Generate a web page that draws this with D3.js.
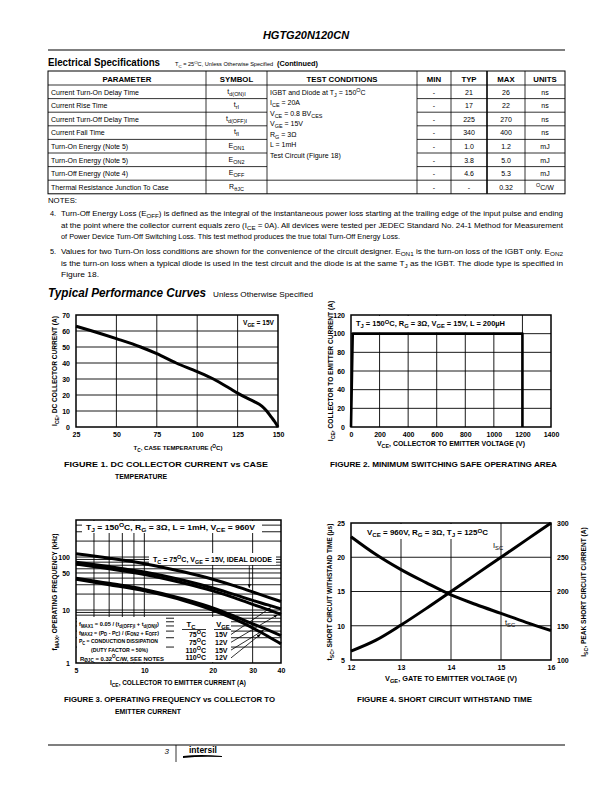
<!DOCTYPE html>
<html><head><meta charset="utf-8">
<script src="https://cdn.jsdelivr.net/npm/d3@7"></script>
<style>body{margin:0;background:#fff}svg{display:block}</style>
</head><body><svg id="page" width="612" height="792"></svg>
<script>
// ================= DATA =================
const tableHeaders = ["PARAMETER", "SYMBOL", "TEST CONDITIONS", "MIN", "TYP", "MAX", "UNITS"];
const tableParams = ["Current Turn-On Delay Time", "Current Rise Time", "Current Turn-Off Delay Time", "Current Fall Time",
  "Turn-On Energy (Note 5)", "Turn-On Energy (Note 5)", "Turn-Off Energy (Note 4)", "Thermal Resistance Junction To Case"];
const tableSymbols = ["t_{d(ON)I}", "t_{rI}", "t_{d(OFF)I}", "t_{fI}", "E_{ON1}", "E_{ON2}", "E_{OFF}", "R_{θJC}"];
const tableMin = ["-", "-", "-", "-", "-", "-", "-", "-"];
const tableTyp = ["21", "17", "225", "340", "1.0", "3.8", "4.6", "-"];
const tableMax = ["26", "22", "270", "400", "1.2", "5.0", "5.3", "0.32"];
const tableUnits = ["ns", "ns", "ns", "ns", "mJ", "mJ", "mJ", "^{O}C/W"];
const testConditions = ["IGBT and Diode at T_{J} = 150^{O}C", "I_{CE} = 20A", "V_{CE} = 0.8 BV_{CES}", "V_{GE} = 15V",
  "R_{G} = 3Ω", "L = 1mH", "Test Circuit (Figure 18)"];
const note4 = ["Turn-Off Energy Loss (E_{OFF}) is defined as the integral of the instantaneous power loss starting at the trailing edge of the input pulse and ending",
  "at the point where the collector current equals zero (I_{CE} = 0A). All devices were tested per JEDEC Standard No. 24-1 Method for Measurement",
  "of Power Device Turn-Off Switching Loss. This test method produces the true total Turn-Off Energy Loss."];
const note5 = ["Values for two Turn-On loss conditions are shown for the convenience of the circuit designer. E_{ON1} is the turn-on loss of the IGBT only. E_{ON2}",
  "is the turn-on loss when a typical diode is used in the test circuit and the diode is at the same T_{J} as the IGBT. The diode type is specified in",
  "Figure 18."];

// Figure 1: DC collector current vs case temperature
const fig1Temp =    [25, 35, 50,   65, 75,   87, 100,  110, 120, 125,  130,  135, 140, 143, 146, 148, 150];
const fig1Current = [63, 60, 55.2, 50, 45.8, 40, 34.6, 30,  24.2, 21.2, 18.5, 16, 13,  10,  6,   3.3, 0];
const fig1XTicks = [25, 50, 75, 100, 125, 150];
const fig1YTicks = [0, 10, 20, 30, 40, 50, 60, 70];

// Figure 2: switching SOA
const fig2Vce = [0, 12, 1200, 1200];
const fig2Ice = [0, 100, 100, 0];
const fig2XTicks = [0, 200, 400, 600, 800, 1000, 1200, 1400];
const fig2YTicks = [0, 20, 40, 60, 80, 100, 120];

// Figure 3: operating frequency vs collector current (log-log)
const fig3Ice = [5, 7, 10, 15, 20, 25, 30, 35, 40];
const fig3Ideal  = [115, 95, 75, 52, 38, 28.5, 22, 17.5, 14.5];
const fig3T75V15 = [80, 66, 52, 36, 26, 19.5, 15.2, 12.5, 10.5];
const fig3T75V12 = [74, 60, 47, 32, 23, 17, 12.8, 10.2, 8.3];
const fig3T110V15 = [40, 32, 24.5, 16, 11, 7.6, 5.5, 4.2, 3.3];
const fig3T110V12 = [38, 30, 23, 15, 10, 6.7, 4.6, 3.2, 2.3];
const fig3XTickVals = [5, 10, 20, 30, 40];
const fig3YTickVals = [1, 10, 50, 100];
const fig3XGrid = [6, 7, 8, 9, 10, 20, 30];
const fig3YGrid = [2, 3, 4, 5, 6, 7, 8, 9, 10, 20, 30, 40, 50, 60, 70, 80, 90, 100, 200, 300, 400];
const fig3LegendTc = ["75^{O}C", "75^{O}C", "110^{O}C", "110^{O}C"];
const fig3LegendVge = ["15V", "12V", "15V", "12V"];
const fig3ArrowX = [36, 38.5, 33.5, 32.5];   // point on the curve each label arrow points to (A)

// Figure 4: short circuit withstand time
const fig4Vge = [12, 12.5, 13, 13.5, 14, 14.5, 15, 15.5, 16];
const fig4Tsc = [23, 20.4, 18.2, 16.3, 14.5, 13.1, 11.8, 10.5, 9.3];
const fig4Isc = [113, 129, 151, 175, 200, 225, 250, 275, 300];
const fig4XTicks = [12, 13, 14, 15, 16];
const fig4YTicks = [5, 10, 15, 20, 25];
const fig4Y2Ticks = [100, 150, 200, 250, 300];

// ================= DRAWING =================
const SANS = "'Liberation Sans', Arial, Helvetica, sans-serif";
const NARROW = "'Liberation Sans Narrow', 'Arial Narrow', 'Liberation Sans', Arial, sans-serif";
const svg = d3.select('#page');
svg.append('rect').attr('width', 612).attr('height', 792).attr('fill', '#fff');

function rich(t, str, fs) {
  const re = /([_^])\{([^}]*)\}/g;
  let last = 0, m; const parts = [];
  while ((m = re.exec(str))) {
    if (m.index > last) parts.push({ t: str.slice(last, m.index), k: 'n' });
    parts.push({ t: m[2], k: m[1] === '_' ? 'sub' : 'sup' });
    last = re.lastIndex;
  }
  if (last < str.length) parts.push({ t: str.slice(last), k: 'n' });
  let cur = 0;
  parts.forEach(p => {
    const target = p.k === 'sub' ? fs * 0.3 : p.k === 'sup' ? -fs * 0.38 : 0;
    const ts = t.append('tspan').text(p.t);
    if (target - cur !== 0) ts.attr('dy', target - cur);
    if (p.k !== 'n') ts.attr('font-size', fs * 0.78);
    cur = target;
  });
}
function txt(parent, x, y, str, o = {}) {
  const fs = o.size || 7;
  const t = parent.append('text').attr('x', x).attr('y', y)
    .attr('font-family', o.family || SANS).attr('font-size', fs)
    .attr('font-weight', o.weight || 'normal').attr('font-style', o.style || 'normal')
    .attr('text-anchor', o.anchor || 'start').attr('fill', '#000');
  if (o.len) t.attr('textLength', o.len).attr('lengthAdjust', 'spacingAndGlyphs');
  if (o.rotate) t.attr('transform', `rotate(${o.rotate},${x},${y})`);
  rich(t, str, fs);
  return t;
}
function hline(p, x1, x2, y, w = 1) { p.append('line').attr('x1', x1).attr('x2', x2).attr('y1', y).attr('y2', y).attr('stroke', '#000').attr('stroke-width', w); }
function vline(p, x, y1, y2, w = 1) { p.append('line').attr('x1', x).attr('x2', x).attr('y1', y1).attr('y2', y2).attr('stroke', '#000').attr('stroke-width', w); }

// ---- page header ----
txt(svg, 306, 39, "HGTG20N120CN", { size: 11, weight: 'bold', style: 'italic', anchor: 'middle' });
hline(svg, 48, 565, 50, 1.2);
txt(svg, 48, 66, "Electrical Specifications", { size: 10, weight: 'bold', family: NARROW, len: 112 });
txt(svg, 175, 66, "T_{C} = 25^{O}C, Unless Otherwise Specified", { size: 5.6 });
txt(svg, 277, 66, "(Continued)", { size: 7.3, weight: 'bold', family: NARROW });

// ---- table ----
const cols = [48, 206, 267, 417, 451, 487, 525, 565];
const tTop = 71, hdrBot = 85, rowH = 13.6, nRows = tableParams.length;
const tBot = hdrBot + nRows * rowH;
const tg = svg.append('g');
tg.append('rect').attr('x', cols[0]).attr('y', tTop).attr('width', cols[7] - cols[0]).attr('height', tBot - tTop)
  .attr('fill', 'none').attr('stroke', '#000').attr('stroke-width', 1);
cols.slice(1, 7).forEach((c, i) => vline(tg, c, tTop, tBot, i === 4 ? 1.6 : 0.8));
hline(tg, cols[0], cols[7], hdrBot, 0.8);
for (let i = 1; i < nRows; i++) {
  const y = hdrBot + i * rowH;
  if (i === nRows - 1) hline(tg, cols[0], cols[7], y, 0.8);
  else { hline(tg, cols[0], cols[2], y, 0.8); hline(tg, cols[3], cols[7], y, 0.8); }
}
tableHeaders.forEach((h, i) => txt(tg, (cols[i] + cols[i + 1]) / 2, hdrBot - 3.5, h, { size: 7.8, weight: 'bold', family: NARROW, anchor: 'middle' }));
tableParams.forEach((p, i) => {
  const y = hdrBot + i * rowH + 9.5;
  txt(tg, cols[0] + 3, y, p, { size: 7 });
  txt(tg, (cols[1] + cols[2]) / 2, y - 1, tableSymbols[i], { size: 7, anchor: 'middle' });
  txt(tg, (cols[3] + cols[4]) / 2, y, tableMin[i], { size: 7, anchor: 'middle' });
  txt(tg, (cols[4] + cols[5]) / 2, y, tableTyp[i], { size: 7, anchor: 'middle' });
  txt(tg, (cols[5] + cols[6]) / 2, y, tableMax[i], { size: 7, anchor: 'middle' });
  txt(tg, (cols[6] + cols[7]) / 2, y, tableUnits[i], { size: 7, anchor: 'middle' });
});
testConditions.forEach((c, i) => txt(tg, cols[2] + 3, 94.5 + i * 10.5, c, { size: 7 }));

// ---- notes ----
const noteLens4 = [502, 502, 339], noteLens5 = [502, 502, 38];
txt(svg, 48, 203, "NOTES:", { size: 7, len: 29 });
note4.forEach((l, i) => txt(svg, 61, 216 + i * 11.5, l, { size: 7.3, len: noteLens4[i] }));
txt(svg, 50, 216, "4.", { size: 7.3 });
note5.forEach((l, i) => txt(svg, 61, 254 + i * 11.5, l, { size: 7.3, len: noteLens5[i] }));
txt(svg, 50, 254, "5.", { size: 7.3 });
txt(svg, 48, 297, "Typical Performance Curves", { size: 12, weight: 'bold', style: 'italic', family: NARROW, len: 158 });
txt(svg, 213, 297, "Unless Otherwise Specified", { size: 7, len: 100 });

// ---- plot helpers ----
function grid(g, x, y, xs, ys) {
  const [xa, xb] = x.range(), [ya, yb] = y.range();
  g.append('g').selectAll('line').data(xs).join('line')
    .attr('x1', d => x(d)).attr('x2', d => x(d)).attr('y1', ya).attr('y2', yb).attr('stroke', '#000').attr('stroke-width', 0.9);
  g.append('g').selectAll('line').data(ys).join('line')
    .attr('y1', d => y(d)).attr('y2', d => y(d)).attr('x1', xa).attr('x2', xb).attr('stroke', '#000').attr('stroke-width', 0.9);
}
function border(g, x, y) {
  const [xa, xb] = x.range(), [ya, yb] = y.range();
  g.append('rect').attr('x', xa).attr('y', yb).attr('width', xb - xa).attr('height', ya - yb)
    .attr('fill', 'none').attr('stroke', '#000').attr('stroke-width', 1.5);
}
function whiteBox(g, x1, y1, x2, y2) { g.append('rect').attr('x', x1).attr('y', y1).attr('width', x2 - x1).attr('height', y2 - y1).attr('fill', '#fff'); }
function styleAxis(sel) {
  sel.select('.domain').remove();
  sel.selectAll('text').attr('font-family', SANS).attr('font-size', 7).attr('font-weight', 'bold').attr('fill', '#000');
}
function curve(g, line, data, w = 3) {
  g.append('path').datum(data).attr('d', line).attr('fill', 'none').attr('stroke', '#000').attr('stroke-width', w).attr('stroke-linejoin', 'round');
}
const TS = { size: 6.6, weight: 'bold' };
const CAP = { size: 8, weight: 'bold', family: NARROW };

// ---- Figure 1 ----
{
  const g = svg.append('g');
  const x = d3.scaleLinear().domain([25, 150]).range([76, 278]);
  const y = d3.scaleLinear().domain([0, 70]).range([427, 315]);
  grid(g, x, y, fig1XTicks.slice(1, -1), fig1YTicks.slice(1, -1));
  const line = d3.line().x(d => x(d[0])).y(d => y(d[1])).curve(d3.curveMonotoneX);
  curve(g, line, fig1Temp.map((t, i) => [t, fig1Current[i]]));
  border(g, x, y);
  g.append('g').attr('transform', `translate(0,${y.range()[0]})`).call(d3.axisBottom(x).tickValues(fig1XTicks).tickFormat(d3.format('d')).tickSize(0).tickPadding(5)).call(styleAxis);
  g.append('g').attr('transform', `translate(${x.range()[0]},0)`).call(d3.axisLeft(y).tickValues(fig1YTicks).tickSize(0).tickPadding(6)).call(styleAxis);
  txt(g, 243, 325, "V_{GE} = 15V", { size: 6.5, weight: 'bold', len: 31 });
  txt(g, 178, 450, "T_{C}, CASE TEMPERATURE (^{O}C)", { size: 6.1, weight: 'bold', anchor: 'middle' });
  txt(g, 57, 371, "I_{CE}, DC COLLECTOR CURRENT (A)", { ...TS, anchor: 'middle', rotate: -90 });
  txt(g, 64, 467, "FIGURE 1.  DC COLLECTOR CURRENT vs CASE", { ...CAP, len: 204 });
  txt(g, 115, 479, "TEMPERATURE", { ...CAP, len: 52 });
}

// ---- Figure 2 ----
{
  const g = svg.append('g');
  const x = d3.scaleLinear().domain([0, 1400]).range([351, 551]);
  const y = d3.scaleLinear().domain([0, 120]).range([427, 315]);
  grid(g, x, y, fig2XTicks.slice(1, -1), fig2YTicks.slice(1, -1));
  whiteBox(g, x(0) + 1, y(120) + 1, x(1175), y(100) - 1);
  const line = d3.line().x(d => x(d[0])).y(d => y(d[1]));
  curve(g, line, fig2Vce.map((v, i) => [v, fig2Ice[i]]), 2.6);
  border(g, x, y);
  g.append('g').attr('transform', `translate(0,${y.range()[0]})`).call(d3.axisBottom(x).tickValues(fig2XTicks).tickFormat(d3.format('d')).tickSize(0).tickPadding(5)).call(styleAxis);
  g.append('g').attr('transform', `translate(${x.range()[0]},0)`).call(d3.axisLeft(y).tickValues(fig2YTicks).tickFormat(d3.format('d')).tickSize(0).tickPadding(6)).call(styleAxis);
  txt(g, 356, 326, "T_{J} = 150^{O}C, R_{G} = 3Ω, V_{GE} = 15V, L = 200µH", { size: 6.5, weight: 'bold', len: 149 });
  txt(g, 377, 446, "V_{CE}, COLLECTOR TO EMITTER VOLTAGE (V)", { ...TS, len: 148 });
  txt(g, 333, 371, "I_{CE}, COLLECTOR TO EMITTER CURRENT (A)", { ...TS, anchor: 'middle', rotate: -90 });
  txt(g, 330, 467, "FIGURE 2.  MINIMUM SWITCHING SAFE OPERATING AREA", { ...CAP, len: 227 });
}

// ---- Figure 3 ----
{
  const g = svg.append('g');
  const x = d3.scaleLog().domain([5, 40]).range([76, 281]);
  const y = d3.scaleLog().domain([1, 500]).range([663, 520]);
  grid(g, x, y, fig3XGrid, fig3YGrid);
  whiteBox(g, 82, 521, 262, 533);
  whiteBox(g, 149, 553, 276, 565);
  whiteBox(g, 77, 617, 166, 662);
  whiteBox(g, 174, 617, 231, 662);
  const line = d3.line().x(d => x(d[0])).y(d => y(d[1])).curve(d3.curveMonotoneX);
  const series = [fig3Ideal, fig3T75V15, fig3T75V12, fig3T110V15, fig3T110V12];
  series.forEach(s => curve(g, line, fig3Ice.map((c, i) => [c, s[i]]), 3));
  border(g, x, y);
  g.append('g').attr('transform', `translate(0,${y.range()[0]})`).call(d3.axisBottom(x).tickValues(fig3XTickVals).tickFormat(d3.format('d')).tickSize(0).tickPadding(5)).call(styleAxis);
  g.append('g').attr('transform', `translate(${x.range()[0]},0)`).call(d3.axisLeft(y).tickValues(fig3YTickVals).tickFormat(d3.format('d')).tickSize(0).tickPadding(6)).call(styleAxis);
  txt(g, 86, 529.5, "T_{J} = 150^{O}C, R_{G} = 3Ω, L = 1mH, V_{CE} = 960V", { size: 6.8, weight: 'bold', len: 169 });
  txt(g, 153, 562, "T_{C} = 75^{O}C, V_{GE} = 15V, IDEAL DIODE", { size: 6.8, weight: 'bold', len: 119 });
  const defs = svg.append('defs');
  defs.append('marker').attr('id', 'ah').attr('viewBox', '0 0 10 10').attr('refX', 9).attr('refY', 5)
    .attr('markerWidth', 5).attr('markerHeight', 5).attr('orient', 'auto-start-reverse')
    .append('path').attr('d', 'M0,1 L10,5 L0,9 Z').attr('fill', '#000');
  const interp = (s, xv) => {
    const lx = Math.log(xv);
    for (let i = 0; i < fig3Ice.length - 1; i++) {
      const a = Math.log(fig3Ice[i]), b = Math.log(fig3Ice[i + 1]);
      if (lx >= a && lx <= b) { const t = (lx - a) / (b - a); return Math.exp(Math.log(s[i]) * (1 - t) + Math.log(s[i + 1]) * t); }
    }
    return s[s.length - 1];
  };
  const ax = x(29);
  g.append('line').attr('x1', ax).attr('x2', ax).attr('y1', 566).attr('y2', y(interp(fig3Ideal, 29)) - 3)
    .attr('stroke', '#000').attr('stroke-width', 0.8).attr('marker-end', 'url(#ah)');
  const lf = { size: 5.8, weight: 'bold' };
  txt(g, 79, 626, "f_{MAX1} = 0.05 / (t_{d(OFF)I} + t_{d(ON)I})", { ...lf, len: 80 });
  txt(g, 79, 634.5, "f_{MAX2} = (P_{D} - P_{C}) / (E_{ON2} + E_{OFF})", { ...lf, len: 80 });
  txt(g, 79, 643, "P_{C} = CONDUCTION DISSIPATION", { ...lf, len: 79 });
  txt(g, 91, 652, "(DUTY FACTOR = 50%)", { ...lf, len: 57 });
  txt(g, 80, 660.5, "R_{ØJC} = 0.32^{O}C/W, SEE NOTES", { ...lf, len: 84 });
  txt(g, 191, 627, "T_{C}", { size: 7.5, weight: 'bold', anchor: 'middle' });
  txt(g, 223, 627, "V_{GE}", { size: 7.5, weight: 'bold', anchor: 'middle' });
  hline(g, 182, 206, 629.5, 0.8); hline(g, 214, 231, 629.5, 0.8);
  const curvesFor = [fig3T75V15, fig3T75V12, fig3T110V15, fig3T110V12];
  fig3LegendTc.forEach((tc, i) => {
    const yy = 637 + i * 7.8;
    txt(g, 206, yy, tc, { size: 7, weight: 'bold', anchor: 'end' });
    txt(g, 215, yy, fig3LegendVge[i], { size: 7, weight: 'bold' });
    const tx = fig3ArrowX[i];
    g.append('line').attr('x1', 231).attr('y1', yy - 2.5).attr('x2', x(tx)).attr('y2', y(interp(curvesFor[i], tx)) + 2)
      .attr('stroke', '#000').attr('stroke-width', 0.8).attr('marker-end', 'url(#ah)');
  });
  txt(g, 110, 685, "I_{CE}, COLLECTOR TO EMITTER CURRENT (A)", { ...TS, len: 136 });
  txt(g, 57, 592, "f_{MAX}, OPERATING FREQUENCY (kHz)", { ...TS, anchor: 'middle', rotate: -90 });
  txt(g, 64, 702, "FIGURE 3.  OPERATING FREQUENCY vs COLLECTOR TO", { ...CAP, len: 211 });
  txt(g, 115, 714, "EMITTER CURRENT", { ...CAP, len: 66 });
}

// ---- Figure 4 ----
{
  const g = svg.append('g');
  const x = d3.scaleLinear().domain([12, 16]).range([351, 551]);
  const y = d3.scaleLinear().domain([5, 25]).range([660, 523]);
  const y2 = d3.scaleLinear().domain([100, 300]).range([660, 523]);
  grid(g, x, y, fig4XTicks.slice(1, -1), fig4YTicks.slice(1, -1));
  whiteBox(g, 361, 524, 494, 539);
  const l1 = d3.line().x(d => x(d[0])).y(d => y(d[1])).curve(d3.curveMonotoneX);
  const l2 = d3.line().x(d => x(d[0])).y(d => y2(d[1])).curve(d3.curveMonotoneX);
  curve(g, l1, fig4Vge.map((v, i) => [v, fig4Tsc[i]]), 3);
  curve(g, l2, fig4Vge.map((v, i) => [v, fig4Isc[i]]), 3);
  border(g, x, y);
  g.append('g').attr('transform', `translate(0,${y.range()[0]})`).call(d3.axisBottom(x).tickValues(fig4XTicks).tickFormat(d3.format('d')).tickSize(0).tickPadding(5)).call(styleAxis);
  g.append('g').attr('transform', `translate(${x.range()[0]},0)`).call(d3.axisLeft(y).tickValues(fig4YTicks).tickFormat(d3.format('d')).tickSize(0).tickPadding(6)).call(styleAxis);
  g.append('g').attr('transform', `translate(${x.range()[1]},0)`).call(d3.axisRight(y2).tickValues(fig4Y2Ticks).tickFormat(d3.format('d')).tickSize(0).tickPadding(6)).call(styleAxis);
  txt(g, 367, 535, "V_{CE} = 960V, R_{G} = 3Ω, T_{J} = 125^{O}C", { size: 6.5, weight: 'bold', len: 121 });
  txt(g, 493, 548, "I_{SC}", { size: 7.5 });
  txt(g, 505, 625, "t_{SC}", { size: 7.5 });
  txt(g, 385, 681, "V_{GE}, GATE TO EMITTER VOLTAGE (V)", { ...TS, len: 132 });
  txt(g, 332, 592, "t_{SC}, SHORT CIRCUIT WITHSTAND TIME (µs)", { ...TS, anchor: 'middle', rotate: -90 });
  txt(g, 586, 592, "I_{SC}, PEAK SHORT CIRCUIT CURRENT (A)", { ...TS, anchor: 'middle', rotate: -90 });
  txt(g, 357, 702, "FIGURE 4.  SHORT CIRCUIT WITHSTAND TIME", { ...CAP, len: 175 });
}

// ---- footer ----
hline(svg, 48, 565, 745, 1.2);
txt(svg, 169, 754, "3", { size: 8, style: 'italic', anchor: 'end' });
vline(svg, 176, 745, 762, 0.8);
txt(svg, 189, 753, "intersil", { size: 8.5, weight: 'bold' });
svg.append('path').attr('d', 'M183,756 Q200,754 222,756 L222,757 Q200,756 183,758 Z').attr('fill', '#000');
</script>
</body></html>
